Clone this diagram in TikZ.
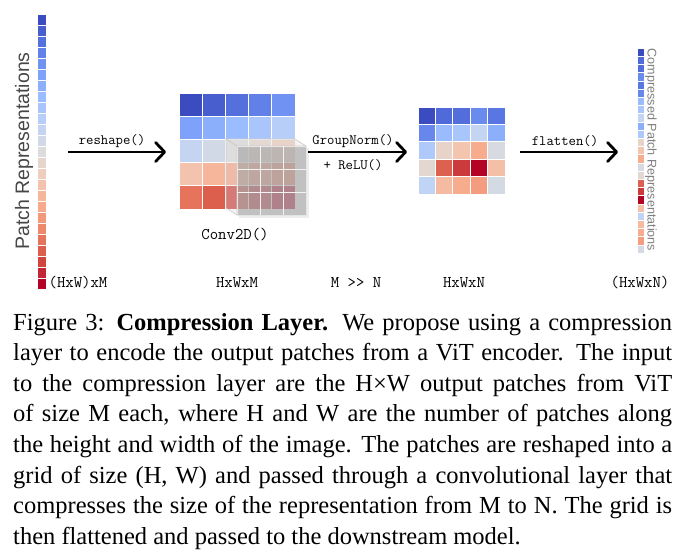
\documentclass[tikz,border=0pt]{standalone}
\usepackage{fontspec}
\setmainfont{Liberation Serif}
\setsansfont{Liberation Sans}
\usetikzlibrary{arrows.meta}
\definecolor{cw0}{HTML}{3B4CC0}
\definecolor{cw1}{HTML}{5977E3}
\definecolor{cw2}{HTML}{7B9FF9}
\definecolor{cw3}{HTML}{9EBEFF}
\definecolor{cw4}{HTML}{C0D4F5}
\definecolor{cw5}{HTML}{DDDCDC}
\definecolor{cw6}{HTML}{F2CBB7}
\definecolor{cw7}{HTML}{F7AC8E}
\definecolor{cw8}{HTML}{EE8468}
\definecolor{cw9}{HTML}{D65244}
\definecolor{cw10}{HTML}{B40426}
\newcommand\cwset[2]{%
  \pgfmathsetmacro\cwx{(#1)*10}%
  \pgfmathtruncatemacro\cwi{min(floor(\cwx),9)}%
  \pgfmathtruncatemacro\cwj{\cwi+1}%
  \pgfmathtruncatemacro\cwf{round((\cwx-\cwi)*100)}%
  \colorlet{#2}{cw\cwj!\cwf!cw\cwi}%
}
\def\gridtwo{0.0,0.07,0.08,0.15,0.10,0.14,0.29,0.33,0.41,0.25,0.35,0.55,0.62,0.70,0.48,0.53,0.87,0.93,1.0,0.64,0.40,0.65,0.70,0.74,0.47}
\tikzset{
  cellbox/.style={draw=white, line width=0.7pt, inner sep=0pt, outer sep=0pt, anchor=north west},
  arr/.style={line width=2.8pt, -{Straight Barb[length=9pt,width=19pt,round]}},
  oplabel/.style={font=\ttfamily\fontsize{14.3}{16}\selectfont, inner sep=0pt},
  dimlabel/.style={font=\ttfamily\fontsize{16.3}{18}\selectfont, inner sep=0pt},
  kface/.style={fill=gray!25, fill opacity=0.35, draw=gray!40, line width=0.6pt},
  kfront/.style={fill=black!30, fill opacity=0.73, draw=white!80!gray, line width=0.6pt},
}
\begin{document}
\begin{tikzpicture}[x=1pt,y=-1pt]
\fill[white] (0,0) rectangle (689,554);
\useasboundingbox (0,0) rectangle (689,554);

% left column: patch representations
\foreach \k in {0,...,24}{
  \pgfmathsetmacro\tv{\k/24}
  \cwset{\tv}{cellc}
  \node[cellbox, fill=cellc, minimum width=9pt, minimum height=11pt] (L\k) at (37,14+\k*11) {};
}
\node[font=\sffamily\fontsize{19.5}{22}\selectfont, text=black!72, rotate=90, anchor=base, inner sep=0pt] (plabel) at (29,151) {Patch Representations};

% grid 1 (HxWxM)
\foreach \r in {0,...,4}{
  \foreach \c in {0,...,4}{
    \pgfmathsetmacro\tv{(5*\r+\c)/24}
    \cwset{\tv}{cellc}
    \node[cellbox, fill=cellc, minimum width=23.2pt, minimum height=23.2pt] (G\r\c) at (179+\c*23.2,93+\r*23.2) {};
  }
}

% conv kernel box
\fill[black, opacity=0.07] (239,148) rectangle (308.5,217.5);
\filldraw[kface] (226,139) -- (295,139) -- (306,146) -- (237,146) -- cycle;
\filldraw[kface] (226,139) -- (237,146) -- (237,215) -- (226,208) -- cycle;
\filldraw[kfront] (237,146) rectangle (306,215);
\draw[white!90!gray, line width=0.6pt] (260,146) -- (260,215) (283,146) -- (283,215)
  (237,169) -- (306,169) (237,192) -- (306,192);
\node[dimlabel] (conv) at (235,235) {Conv2D()};

% grid 2 (HxWxN)
\foreach \tv [count=\i from 0] in \gridtwo {
  \pgfmathtruncatemacro\rr{floor(\i/5)}
  \pgfmathtruncatemacro\cc{mod(\i,5)}
  \cwset{\tv}{cellc}
  \node[cellbox, fill=cellc, minimum width=17.4pt, minimum height=17.4pt] (H\i) at (418+\cc*17.4,107+\rr*17.4) {};
}

% right column: compressed representations
\foreach \tv [count=\i from 0] in \gridtwo {
  \cwset{\tv}{cellc}
  \node[cellbox, fill=cellc, minimum width=7pt, minimum height=8.2pt, line width=0.5pt] (R\i) at (637,48+\i*8.2) {};
}
\node[font=\sffamily\fontsize{12.6}{14}\selectfont, text=black!50, rotate=-90, anchor=base, inner sep=0pt] (clabel) at (647.5,150) {Compressed Patch Representations};

% arrows
\coordinate (a1s) at (68,152);  \coordinate (a1e) at (166,152);
\coordinate (a2s) at (308,152); \coordinate (a2e) at (407,152);
\coordinate (a3s) at (520,152); \coordinate (a3e) at (618,152);
\draw[arr] (a1s) -- (a1e);
\draw[arr] (a2s) -- (a2e);
\draw[arr] (a3s) -- (a3e);
\node[oplabel] (l1) at (112,141) {reshape()};
\node[oplabel] (l2) at (353,141) {GroupNorm()};
\node[oplabel] (l3) at (353,165) {+ ReLU()};
\node[oplabel] (l4) at (565,141) {flatten()};

% dimension labels
\node[dimlabel] (d1) at (78,283) {(HxW)xM};
\node[dimlabel] (d2) at (237,283) {HxWxM};
\node[dimlabel] (d3) at (356,283) {M >{}> N};
\node[dimlabel] (d4) at (464,283) {HxWxN};
\node[dimlabel] (d5) at (640,283) {(HxWxN)};

% caption
\node[anchor=base west, inner sep=0pt, text width=659pt, align=justify,
      font=\fontsize{24.5}{30.6}\selectfont] (cap) at (13,330)
{Figure 3: \textbf{Compression Layer.} We propose using a compression\linebreak
layer to encode the output patches from a ViT encoder. The input\linebreak
to the compression layer are the H×W output patches from ViT\linebreak
of size M each, where H and W are the number of patches along\linebreak
the height and width of the image. The patches are reshaped into a\linebreak
grid of size (H, W) and passed through a convolutional layer that\linebreak
compresses the size of the representation from M to N. The grid is\linebreak
then flattened and passed to the downstream model.};
\end{tikzpicture}
\end{document}
